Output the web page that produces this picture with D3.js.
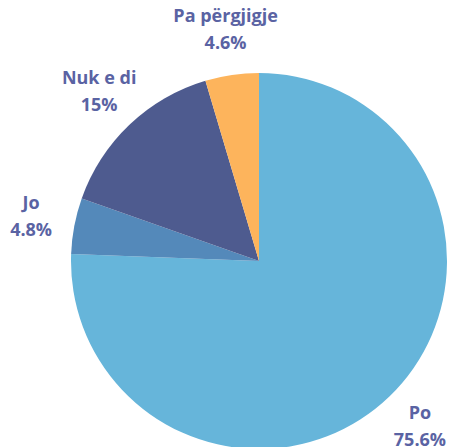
<!DOCTYPE html>
<html>
<head>
<meta charset="utf-8">
<script src="https://cdn.jsdelivr.net/npm/d3@7"></script>
<style>
  body { margin: 0; background: #fff; }
  text { font-family: "Open Sans", sans-serif; font-weight: bold; }
</style>
</head>
<body>
<div id="chart"></div>
<script>
const labels = ['Po', 'Jo', 'Nuk e di', 'Pa përgjigje'];
const values = [75.6, 4.8, 15, 4.6];
const valueLabels = ['75.6%', '4.8%', '15%', '4.6%'];
const colors = ['#66b5da', '#5489ba', '#4e5b8f', '#fdb45c'];

const width = 461, height = 447;
const cx = 259, cy = 261, radius = 188;

const svg = d3.select('#chart').append('svg').attr('width', width).attr('height', height)
    .append('g').attr('transform', `translate(${cx}, ${cy})`);

const data = labels.map((d, i) => ({label: d, value: values[i], text: valueLabels[i], color: colors[i]}));
const pie = d3.pie().value(d => d.value).sort(null);
const path = d3.arc().outerRadius(radius).innerRadius(0);
// centroid of this arc sits at radius 232
const labelArc = d3.arc().outerRadius(232 * 2).innerRadius(0);

const arcs = pie(data);

svg.selectAll('path').data(arcs).enter().append('path')
    .attr('d', path).attr('fill', d => d.data.color);

const lab = svg.selectAll('g.label').data(arcs).enter().append('g').attr('class', 'label')
    .attr('transform', d => `translate(${labelArc.centroid(d)})`);

lab.append('text').attr('text-anchor', 'middle').attr('y', -9)
    .style('fill', '#5a63a3').style('font-size', '18px').text(d => d.data.label);
lab.append('text').attr('text-anchor', 'middle').attr('y', 18)
    .style('fill', '#5a63a3').style('font-size', '18px').text(d => d.data.text);
</script>
</body>
</html>
